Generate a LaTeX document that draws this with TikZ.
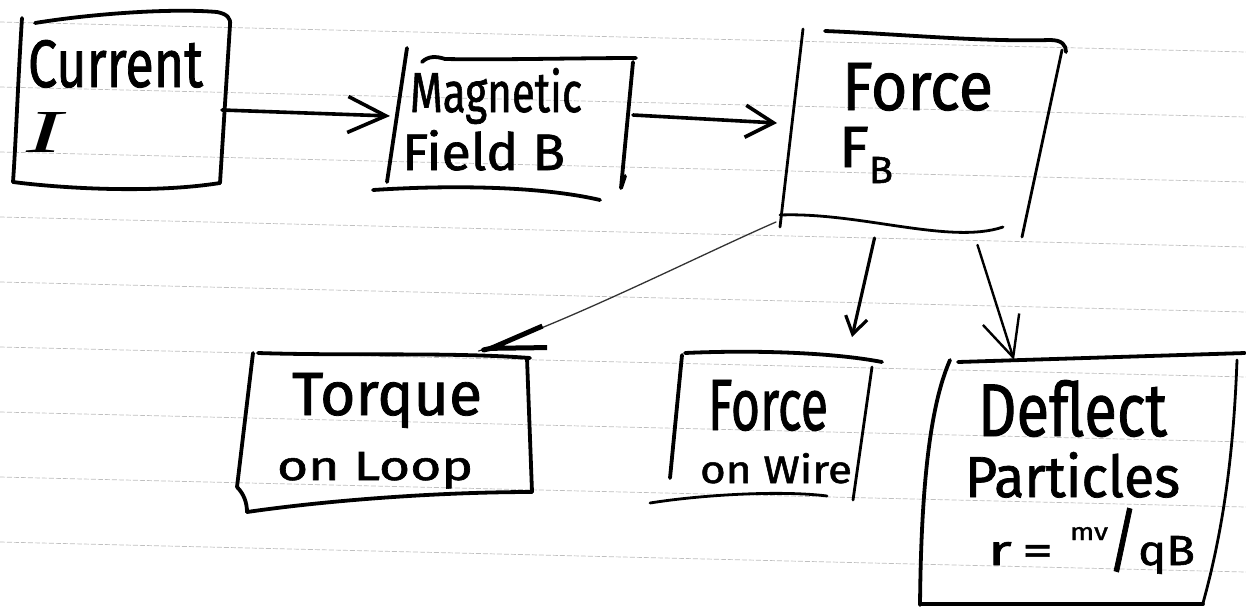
\documentclass[tikz,border=0pt]{standalone}
\usepackage{fontspec}
\setmainfont{Fira Sans}
\newfontfamily\hwfont{Fira Sans}[FakeBold=1.3]
\newfontfamily\seriffont{Liberation Serif}
\usepackage{graphicx}
\usetikzlibrary{arrows.meta,calc}
\tikzset{
  hand/.style={line width=3.8pt, line cap=round, line join=round},
  txt/.style={anchor=base west, inner sep=0pt, outer sep=0pt, font=\hwfont},
  boxarea/.style={draw=none, rectangle, inner sep=0pt, outer sep=0pt},
  ruleline/.style={black!25, line width=0.7pt, dash pattern=on 5pt off 2pt},
  bigarr/.style={line width=3.6pt, line cap=round, -{Straight Barb[length=38pt,width=36pt]}},
  midarr/.style={line width=3.6pt, line cap=round, -{Straight Barb[length=28pt,width=32pt]}},
  smallarr/.style={line width=3.2pt, line cap=round, -{Straight Barb[length=17pt,width=22pt]}},
  dblarr/.style={line width=2.4pt, line cap=round, -{Straight Barb[length=40pt,width=38pt]}},
  thinline/.style={black!80, line width=1.3pt, line cap=round},
  thickhead/.style={line width=5pt, line cap=round, shorten <=52pt, -{Straight Barb[length=55pt,width=22pt]}},
}
\begin{document}
\begin{tikzpicture}[x=1pt,y=-1pt]
\useasboundingbox (0,0) rectangle (1246,606);
\fill[white] (0,0) rectangle (1246,606);
% ruled notebook paper
\foreach \k in {0,...,8} {
  \draw[ruleline] (0,{22+65*\k}) -- (1246,{22+65*\k+30});
}

% box areas (named nodes)
\node[boxarea, minimum width=217pt, minimum height=178pt] (cur) at (121.5,101) {};
\node[boxarea, minimum width=248pt, minimum height=152pt] (mag) at (511,124) {};
\node[boxarea, minimum width=287pt, minimum height=208pt] (frc) at (923.5,133) {};
\node[boxarea, minimum width=295pt, minimum height=162pt] (trq) at (384.5,431) {};
\node[boxarea, minimum width=232pt, minimum height=150pt] (wir) at (766,428) {};
\node[boxarea, minimum width=325pt, minimum height=253pt] (dfl) at (1082.5,479.5) {};

% ---- hand-drawn outlines ----
% Current
\draw[hand] (22,18) .. controls (18,80) and (16,140) .. (13,182);
\draw[hand] (35,23) .. controls (90,14) and (170,8) .. (217,12) .. controls (227,14) and (231,18) .. (230,25) -- (220,183);
\draw[hand] (13,182) .. controls (60,188) and (150,194) .. (220,183);
% Magnetic
\draw[hand] (407,48) -- (387,182);
\draw[hand] (422,62) .. controls (428,56) and (436,56) .. (445,59) .. controls (500,60) and (580,58) .. (636,58);
\draw[hand] (633,62) -- (621,188) -- (625,176);
\draw[hand] (373,190) .. controls (450,185) and (540,186) .. (600,200);
% Force
\draw[hand, line width=2.8pt] (803,29) -- (780,227);
\draw[hand] (825,31) .. controls (900,34) and (980,42) .. (1050,40) .. controls (1062,40) and (1066,45) .. (1066,52);
\draw[hand, line width=2.8pt] (1062,50) -- (1022,237);
\draw[hand, line width=2.8pt] (780,215) .. controls (860,212) and (950,245) .. (1003,227);
% Torque
\draw[hand] (258,353) .. controls (350,356) and (450,352) .. (530,358);
\draw[hand] (253,353) -- (237,487) .. controls (244,494) and (247,503) .. (247,512);
\draw[hand] (247,512) .. controls (330,500) and (440,492) .. (532,492);
\draw[hand] (527,358) -- (532,492);
% Force on Wire
\draw[hand] (685,353) .. controls (750,350) and (830,352) .. (882,362);
\draw[hand] (682,355) -- (670,478);
\draw[hand, line width=2.8pt] (872,367) -- (853,500);
\draw[hand, line width=2.8pt] (650,503) .. controls (700,495) and (780,490) .. (827,496);
% Deflect
\draw[hand] (950,360) .. controls (928,410) and (921,500) .. (920,605);
\draw[hand] (958,362) -- (1245,353);
\draw[hand, line width=2.8pt] (1237,360) .. controls (1234,440) and (1226,520) .. (1203,603);
\draw[hand] (920,604) -- (1203,604);

% ---- texts ----
\node[txt] (curA) at (28,87) {\resizebox{175pt}{47pt}{Current}};
\node[txt] (curB) at (26,152) {\resizebox{36pt}{40pt}{\seriffont\itshape I}};
\node[txt] (magA) at (410,112) {\resizebox{172pt}{44pt}{Magnetic}};
\node[txt] (magB) at (402,170) {\resizebox{163pt}{40pt}{Field B}};
\node[txt] (frcA) at (842,110) {\resizebox{151pt}{47pt}{Force}};
\node[txt] (frcB) at (839,167) {\resizebox{30pt}{40pt}{F}\raisebox{-16pt}{\resizebox{24pt}{26pt}{B}}};
\node[txt] (trqA) at (292,415) {\resizebox{190pt}{42pt}{Torque}};
\node[txt] (trqB) at (277,480) {\resizebox{196pt}{28pt}{on Loop}};
\node[txt] (wirA) at (708,430) {\resizebox{120pt}{50pt}{Force}};
\node[txt] (wirB) at (700,483) {\resizebox{152pt}{30pt}{on Wire}};
\node[txt] (dflA) at (978,436) {\resizebox{189pt}{56pt}{Deflect}};
\node[txt] (dflB) at (965,497) {\resizebox{215pt}{45pt}{Particles}};
\node[txt] (form) at (988,565) {\resizebox{65pt}{23pt}{r\,=}\hspace{17pt}\raisebox{25pt}{\resizebox{38pt}{13pt}{mv}}\raisebox{-7pt}{\resizebox*{30pt}{64pt}{\raisebox{\depth}{/}}}\resizebox{57pt}{29pt}{qB}};

% ---- connectors ----
\coordinate (tq) at ([shift={(94,1)}]trq.north);
\coordinate (tqh) at ([shift={(56,-12)}]tq);
\draw[bigarr] ([shift={(-8,9)}]cur.east) -- ([shift={(3,-8)}]mag.west);
\draw[midarr] ([shift={(-2,-9)}]mag.east) -- ([shift={(-3,-10)}]frc.west);
\draw[thinline] ([shift={(-4,-15)}]frc.south west) .. controls (700,255) and (560,326) .. (tq);
\draw[thickhead] (tqh) -- (tq);
\draw[smallarr] ([shift={(-49,1)}]frc.south) -- ([shift={(86,-16)}]wir.north);
\draw[dblarr] ([shift={(54,8)}]frc.south) -- ([shift={(-68.5,7)}]dfl.north);
\end{tikzpicture}
\end{document}
